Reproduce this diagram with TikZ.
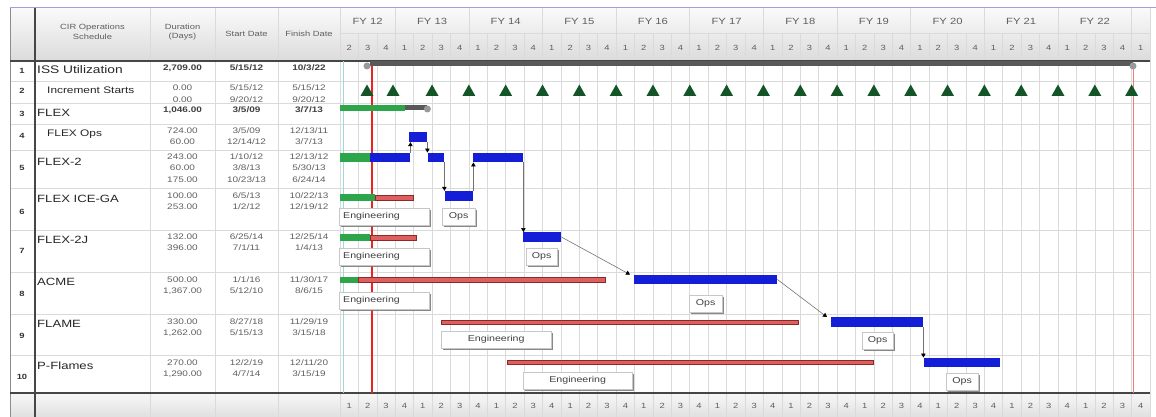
\documentclass[tikz,border=0pt]{standalone}
\usepackage{fontspec}
\setmainfont{Liberation Sans}[FakeStretch=1.25]
\usepackage{tikz}
\usetikzlibrary{arrows.meta,shadows}
\definecolor{gridgray}{RGB}{218, 218, 218}
\definecolor{rulegray}{RGB}{70, 70, 70}
\definecolor{textgray}{RGB}{95, 95, 95}
\definecolor{opsblue}{RGB}{20, 30, 215}
\definecolor{donegreen}{RGB}{45, 165, 75}
\definecolor{engred}{RGB}{222, 95, 95}
\definecolor{engdark}{RGB}{140, 40, 40}
\definecolor{incgreen}{RGB}{20, 85, 40}
\definecolor{todayred}{RGB}{235, 35, 35}
\definecolor{frameblue}{RGB}{160, 160, 225}
\definecolor{markteal}{RGB}{160, 215, 215}
\newcommand{\qwidth}{18.41}
\newcommand{\xorg}{340}
\newcommand{\incmark}[1]{\fill[incgreen] ({#1-6.5},96) -- ({#1+6.5},96) -- (#1,84.5) -- cycle;}
\tikzset{
    gridline/.style={draw=gridgray, line width=0.6pt},
    cellnum/.style={anchor=north, inner sep=0pt, align=center, font=\fontsize{8}{11.5}\selectfont, text=textgray},
    boldcell/.style={cellnum, font=\fontsize{8}{11.5}\selectfont\bfseries, text=black!75},
    rowname/.style={anchor=base west, inner sep=0pt, font=\fontsize{10.5}{12}\selectfont, text=black!85},
    subname/.style={rowname, font=\fontsize{9.5}{11}\selectfont},
    rownum/.style={inner sep=0pt, font=\fontsize{7.5}{9}\selectfont\bfseries, text=black!80},
    headtxt/.style={inner sep=0pt, align=center, font=\fontsize{7.5}{9.5}\selectfont, text=textgray},
    fytxt/.style={inner sep=0pt, font=\fontsize{9}{10}\selectfont, text=textgray},
    qnum/.style={inner sep=0pt, font=\fontsize{7.5}{9}\selectfont, text=textgray},
    sumbar/.style={anchor=west, inner sep=0pt, minimum height=5pt, fill=black!65},
    opsbar/.style={anchor=west, inner sep=0pt, minimum height=9.5pt, fill=opsblue},
    donebar/.style={anchor=west, inner sep=0pt, minimum height=7pt, fill=donegreen},
    engbar/.style={anchor=west, inner sep=0pt, minimum height=4.5pt, fill=engred, draw=engdark, line width=0.5pt},
    phasebox/.style={anchor=north west, inner sep=0pt, minimum height=16.5pt, fill=white, draw=black!22, font=\fontsize{8.5}{10}\selectfont, text=black!75, drop shadow={shadow xshift=1.8pt, shadow yshift=-1.8pt, fill=black!55, opacity=0.85}},
    leftbox/.style={phasebox, inner xsep=4pt, text width=82pt, align=left},
    link/.style={draw=black!55, line width=0.6pt, -{Triangle[length=4pt, width=4.5pt, color=black]}}
}
\begin{document}
\begin{tikzpicture}[x=1pt, y=-1pt]
    \useasboundingbox (0,0) rectangle (1156,417);
    \shade[top color=black!2, bottom color=black!14] (10,8) rectangle (1150,61);
    \shade[top color=black!3, bottom color=black!12] (10,393) rectangle (1150,417);
    \draw[frameblue, line width=1pt] (10,8) -- (1156,8);

    \foreach \i in {0,...,44}
        \draw[gridline] ({\xorg+\i*\qwidth},33) -- ({\xorg+\i*\qwidth},417);
    \foreach \i in {3,7,...,43}
        \draw[gridline] ({\xorg+\i*\qwidth},8) -- ({\xorg+\i*\qwidth},33);
    \draw[gridline] (1150,8) -- (1150,33);
    \draw[gridline] (\xorg,33) -- (1150,33);
    \foreach \y in {81,103,124,150,188,230,272,314,355}
        \draw[gridline] (10,\y) -- (1150,\y);
    \foreach \x in {150,215,278,340}
        \draw[gridline] (\x,8) -- (\x,417);
    \draw[black!45] (10,8) -- (10,417);
    \draw[rulegray, line width=1.6pt] (35,8) -- (35,417);
    \draw[rulegray, line width=1.6pt] (10,61) -- (1150,61);
    \draw[rulegray, line width=1.2pt] (10,393) -- (1150,393);

    \draw[markteal, line width=0.8pt] (343.5,61) -- (343.5,393);
    \draw[todayred, line width=1.8pt] (372,61) -- (372,393);
    \draw[todayred!60, line width=0.6pt] (1133,66) -- (1133,393);

    \node[headtxt] (hname) at (92.5,32) {CIR Operations\\Schedule};
    \node[headtxt] (hdur) at (182.5,32) {Duration\\(Days)};
    \node[headtxt] (hstart) at (246.5,34) {Start Date};
    \node[headtxt] (hfinish) at (309,34) {Finish Date};
    \node[fytxt] (fy12) at ({\xorg+1.5*\qwidth},21) {FY 12};
    \foreach \n in {13,...,22}
        \node[fytxt] (fy\n) at ({\xorg+(5+4*(\n-13))*\qwidth},21) {FY \n};
    \foreach \i in {0,...,43} {
        \pgfmathtruncatemacro{\hq}{mod(\i+1,4)+1}
        \pgfmathtruncatemacro{\fq}{mod(\i,4)+1}
        \node[qnum] (hq\i) at ({\xorg+(\i+0.5)*\qwidth},48) {\hq};
        \node[qnum] (fq\i) at ({\xorg+(\i+0.5)*\qwidth},406) {\fq};
    }

    \foreach \r/\y in {1/71,2/91,3/114,4/136,5/168,6/212,7/251,8/294,9/336,10/377}
        \node[rownum] (rn\r) at (22,\y) {\r};

    \node[rowname, font=\fontsize{11}{13}\selectfont] (name1) at (37,74) {ISS Utilization};
    \node[subname] (name2) at (47,93.5) {Increment Starts};
    \node[rowname] (name3) at (37,117) {FLEX};
    \node[subname] (name4) at (47,136.5) {FLEX Ops};
    \node[rowname] (name5) at (37,165) {FLEX-2};
    \node[rowname] (name6) at (37,202) {FLEX ICE-GA};
    \node[rowname] (name7) at (37,243) {FLEX-2J};
    \node[rowname] (name8) at (37,285) {ACME};
    \node[rowname] (name9) at (37,327) {FLAME};
    \node[rowname] (name10) at (37,369) {P-Flames};

    \node[boldcell] (dur1) at (182.5,64.5) {2,709.00};
    \node[boldcell] (sta1) at (246.5,64.5) {5/15/12};
    \node[boldcell] (fin1) at (309,64.5) {10/3/22};
    \node[cellnum] (dur2) at (182.5,85) {0.00\\0.00};
    \node[cellnum] (sta2) at (246.5,85) {5/15/12\\9/20/12};
    \node[cellnum] (fin2) at (309,85) {5/15/12\\9/20/12};
    \node[boldcell] (dur3) at (182.5,106.5) {1,046.00};
    \node[boldcell] (sta3) at (246.5,106.5) {3/5/09};
    \node[boldcell] (fin3) at (309,106.5) {3/7/13};
    \node[cellnum] (dur4) at (182.5,127.5) {724.00\\60.00};
    \node[cellnum] (sta4) at (246.5,127.5) {3/5/09\\12/14/12};
    \node[cellnum] (fin4) at (309,127.5) {12/13/11\\3/7/13};
    \node[cellnum] (dur5) at (182.5,153.5) {243.00\\60.00\\175.00};
    \node[cellnum] (sta5) at (246.5,153.5) {1/10/12\\3/8/13\\10/23/13};
    \node[cellnum] (fin5) at (309,153.5) {12/13/12\\5/30/13\\6/24/14};
    \node[cellnum] (dur6) at (182.5,192.5) {100.00\\253.00};
    \node[cellnum] (sta6) at (246.5,192.5) {6/5/13\\1/2/12};
    \node[cellnum] (fin6) at (309,192.5) {10/22/13\\12/19/12};
    \node[cellnum] (dur7) at (182.5,233.5) {132.00\\396.00};
    \node[cellnum] (sta7) at (246.5,233.5) {6/25/14\\7/1/11};
    \node[cellnum] (fin7) at (309,233.5) {12/25/14\\1/4/13};
    \node[cellnum] (dur8) at (182.5,276.5) {500.00\\1,367.00};
    \node[cellnum] (sta8) at (246.5,276.5) {1/1/16\\5/12/10};
    \node[cellnum] (fin8) at (309,276.5) {11/30/17\\8/6/15};
    \node[cellnum] (dur9) at (182.5,318.5) {330.00\\1,262.00};
    \node[cellnum] (sta9) at (246.5,318.5) {8/27/18\\5/15/13};
    \node[cellnum] (fin9) at (309,318.5) {11/29/19\\3/15/18};
    \node[cellnum] (dur10) at (182.5,359.5) {270.00\\1,290.00};
    \node[cellnum] (sta10) at (246.5,359.5) {12/2/19\\4/7/14};
    \node[cellnum] (fin10) at (309,359.5) {12/11/20\\3/15/19};

    \node[sumbar, minimum width=763pt] (issbar) at (370,64) {};
    \fill[black!40] (367,66) circle (3.5pt);
    \fill[black!40] (1133,66) circle (3.5pt);
    \incmark{367}
    \incmark{393}
    \foreach \k in {5,7,...,43} {
        \pgfmathsetmacro{\tx}{\xorg+\k*\qwidth}
        \incmark{\tx}
    }

    \node[donebar, minimum width=65pt, minimum height=6pt] (flexdone) at (340,108) {};
    \node[sumbar, minimum width=22pt] (flexrest) at (405,108) {};
    \fill[black!40] ([yshift=-1pt]flexrest.east) circle (3.5pt);
    \node[opsbar, minimum width=18pt, minimum height=10pt] (flexops) at (409,137) {};
    \node[donebar, minimum width=30pt, minimum height=9.5pt] (ftwodone) at (340,157.5) {};
    \node[opsbar, minimum width=40pt] (ftwoa) at (370,157.5) {};
    \node[opsbar, minimum width=16pt] (ftwob) at (428,157.5) {};
    \node[opsbar, minimum width=50pt] (ftwoc) at (473,157.5) {};
    \node[donebar, minimum width=35pt] (icedone) at (340,197.5) {};
    \node[engbar, minimum width=38pt] (iceeng) at (375,197.5) {};
    \node[opsbar, minimum width=28pt, minimum height=10pt] (iceops) at (445,196) {};
    \node[donebar, minimum width=30pt] (ftwojdone) at (340,237.5) {};
    \node[engbar, minimum width=46pt] (ftwojeng) at (370,237.5) {};
    \node[opsbar, minimum width=38pt] (ftwojops) at (523,237) {};
    \node[donebar, minimum width=18pt, minimum height=6pt] (acmedone) at (340,279.5) {};
    \node[engbar, minimum width=247pt] (acmeeng) at (358,279.5) {};
    \node[opsbar, minimum width=143pt] (acmeops) at (634,279.5) {};
    \node[engbar, minimum width=357pt] (flameeng) at (441,322) {};
    \node[opsbar, minimum width=92pt] (flameops) at (831,322) {};
    \node[engbar, minimum width=366pt] (pfleng) at (507,362) {};
    \node[opsbar, minimum width=76pt] (pflops) at (924,362.5) {};

    \node[leftbox] (iceengtag) at (339,208) {Engineering};
    \node[phasebox, minimum width=33pt] (iceopstag) at (442,208) {Ops};
    \node[leftbox] (ftwojengtag) at (339,248) {Engineering};
    \node[phasebox, minimum width=31pt] (ftwojopstag) at (526,248) {Ops};
    \node[leftbox] (acmeengtag) at (339,292) {Engineering};
    \node[phasebox, minimum width=33pt] (acmeopstag) at (689,295) {Ops};
    \node[phasebox, minimum width=110pt] (flameengtag) at (441,331) {Engineering};
    \node[phasebox, minimum width=31pt] (flameopstag) at (862,332) {Ops};
    \node[phasebox, minimum width=109pt] (pflengtag) at (523,372) {Engineering};
    \node[phasebox, minimum width=32pt] (pflopstag) at (946,373) {Ops};

    \draw[link] (ftwoa.north east) -- (ftwoa.north east |- flexops.south);
    \draw[link] (flexops.south east) -- (flexops.south east |- ftwob.north);
    \draw[link] (ftwob.south east) -- (ftwob.south east |- iceops.north);
    \draw[link] (iceops.north east) -- (iceops.north east |- ftwoc.south);
    \draw[link] (ftwoc.south east) -- (ftwoc.south east |- ftwojops.north);
    \draw[link] (ftwojops.east) -- ([xshift=-4pt]acmeops.north west);
    \draw[link] (acmeops.east) -- ([xshift=-4pt]flameops.north west);
    \draw[link] (flameops.south east) -- (flameops.south east |- pflops.north);
\end{tikzpicture}
\end{document}
